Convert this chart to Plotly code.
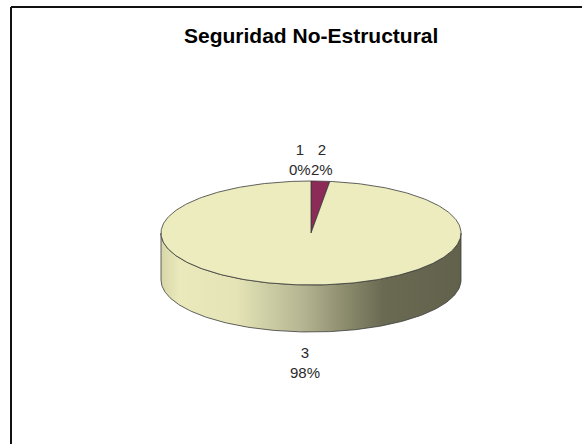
import numpy as np
import plotly.graph_objects as go

# Survey results: category labels and their share (percent)
categories = ["1", "2", "3"]
values = [0, 2, 98]
title_text = "Seguridad No-Estructural"

# Drawing geometry for the tilted 3-D pie (pixel space)
CX, CY = 311, 233          # centre of the top face
A, B = 150, 52             # semi-axes of the top ellipse
DEPTH = 47                 # thickness of the disc
slice_colors = ["#5C5C9E", "#8C2A58", "#ECECBE"]
edge_color = "#3a3a3a"

W, H = 582, 444
fig = go.Figure()


def ellipse_pt(theta_deg, dy=0.0):
    t = np.radians(theta_deg)
    return CX + A * np.sin(t), CY - B * np.cos(t) + dy


# Front wall of the disc (visible half, right -> bottom -> left)
th = np.linspace(90, 270, 181)
tx, ty = ellipse_pt(th)
bx, by = ellipse_pt(th[::-1], DEPTH)
fig.add_trace(go.Scatter(
    x=np.concatenate([tx, bx, tx[:1]]),
    y=np.concatenate([ty, by, ty[:1]]),
    mode="lines", fill="toself",
    line=dict(color=edge_color, width=0.8),
    fillgradient=dict(
        type="horizontal", start=CX - A, stop=CX + A,
        colorscale=[[0.0, "#D6D6A9"], [0.06, "#E9E9BB"], [0.25, "#E4E4B6"],
                    [0.48, "#B3B391"], [0.62, "#8A8A6C"], [0.74, "#6A6A53"],
                    [1.0, "#62624C"]],
    ),
    hoverinfo="skip", showlegend=False,
))

# Top face slices, clockwise from 12 o'clock
total = float(sum(values))
angles = np.concatenate([[0], np.cumsum(values) / total * 360.0])
for i, v in enumerate(values):
    if v <= 0:
        continue
    a0, a1 = angles[i], angles[i + 1]
    arc = np.linspace(a0, a1, max(3, int(a1 - a0) + 2))
    px, py = ellipse_pt(arc)
    fig.add_trace(go.Scatter(
        x=np.concatenate([[CX], px, [CX]]),
        y=np.concatenate([[CY], py, [CY]]),
        mode="lines", fill="toself", fillcolor=slice_colors[i],
        line=dict(color=edge_color, width=0.8),
        hoverinfo="skip", showlegend=False,
    ))

# Data labels ("category" over "percent") placed around the mid-angle
label_nudge = [-11, 5, 0]
label_font = dict(family="Liberation Sans Narrow, Arial Narrow, Liberation Sans, Arial",
                  size=15, color="#2a2a2a")
for i, (cat, v) in enumerate(zip(categories, values)):
    mid = np.radians((angles[i] + angles[i + 1]) / 2)
    lx = CX + 100 * np.sin(mid) + label_nudge[i]
    c = np.cos(mid)
    if c >= 0:
        ly = CY - (B + 22) * c
    else:
        ly = CY - (B + 31) * c + DEPTH
    fig.add_annotation(
        x=lx, y=ly, text=f"{cat}<br>{round(v / total * 100)}%",
        showarrow=False, font=label_font, align="center",
        xanchor="center", yanchor="middle",
    )

fig.add_annotation(
    x=311, y=35, text=f"<b>{title_text}</b>", showarrow=False,
    font=dict(family="Liberation Sans Narrow, Arial Narrow, Liberation Sans, Arial",
              size=21, color="#000000"),
    xanchor="center", yanchor="middle",
)

# Chart frame (top and left edges)
fig.add_shape(type="line", x0=11, y0=7, x1=W + 5, y1=7,
              line=dict(color="#111111", width=2))
fig.add_shape(type="line", x0=11, y0=7, x1=11, y1=H + 5,
              line=dict(color="#111111", width=2))

fig.update_layout(
    width=W, height=H,
    margin=dict(l=0, r=0, t=0, b=0),
    paper_bgcolor="white", plot_bgcolor="white",
    xaxis=dict(range=[0, W], visible=False, fixedrange=True),
    yaxis=dict(range=[H, 0], visible=False, fixedrange=True),
    showlegend=False,
)

fig.write_html("out.html")
